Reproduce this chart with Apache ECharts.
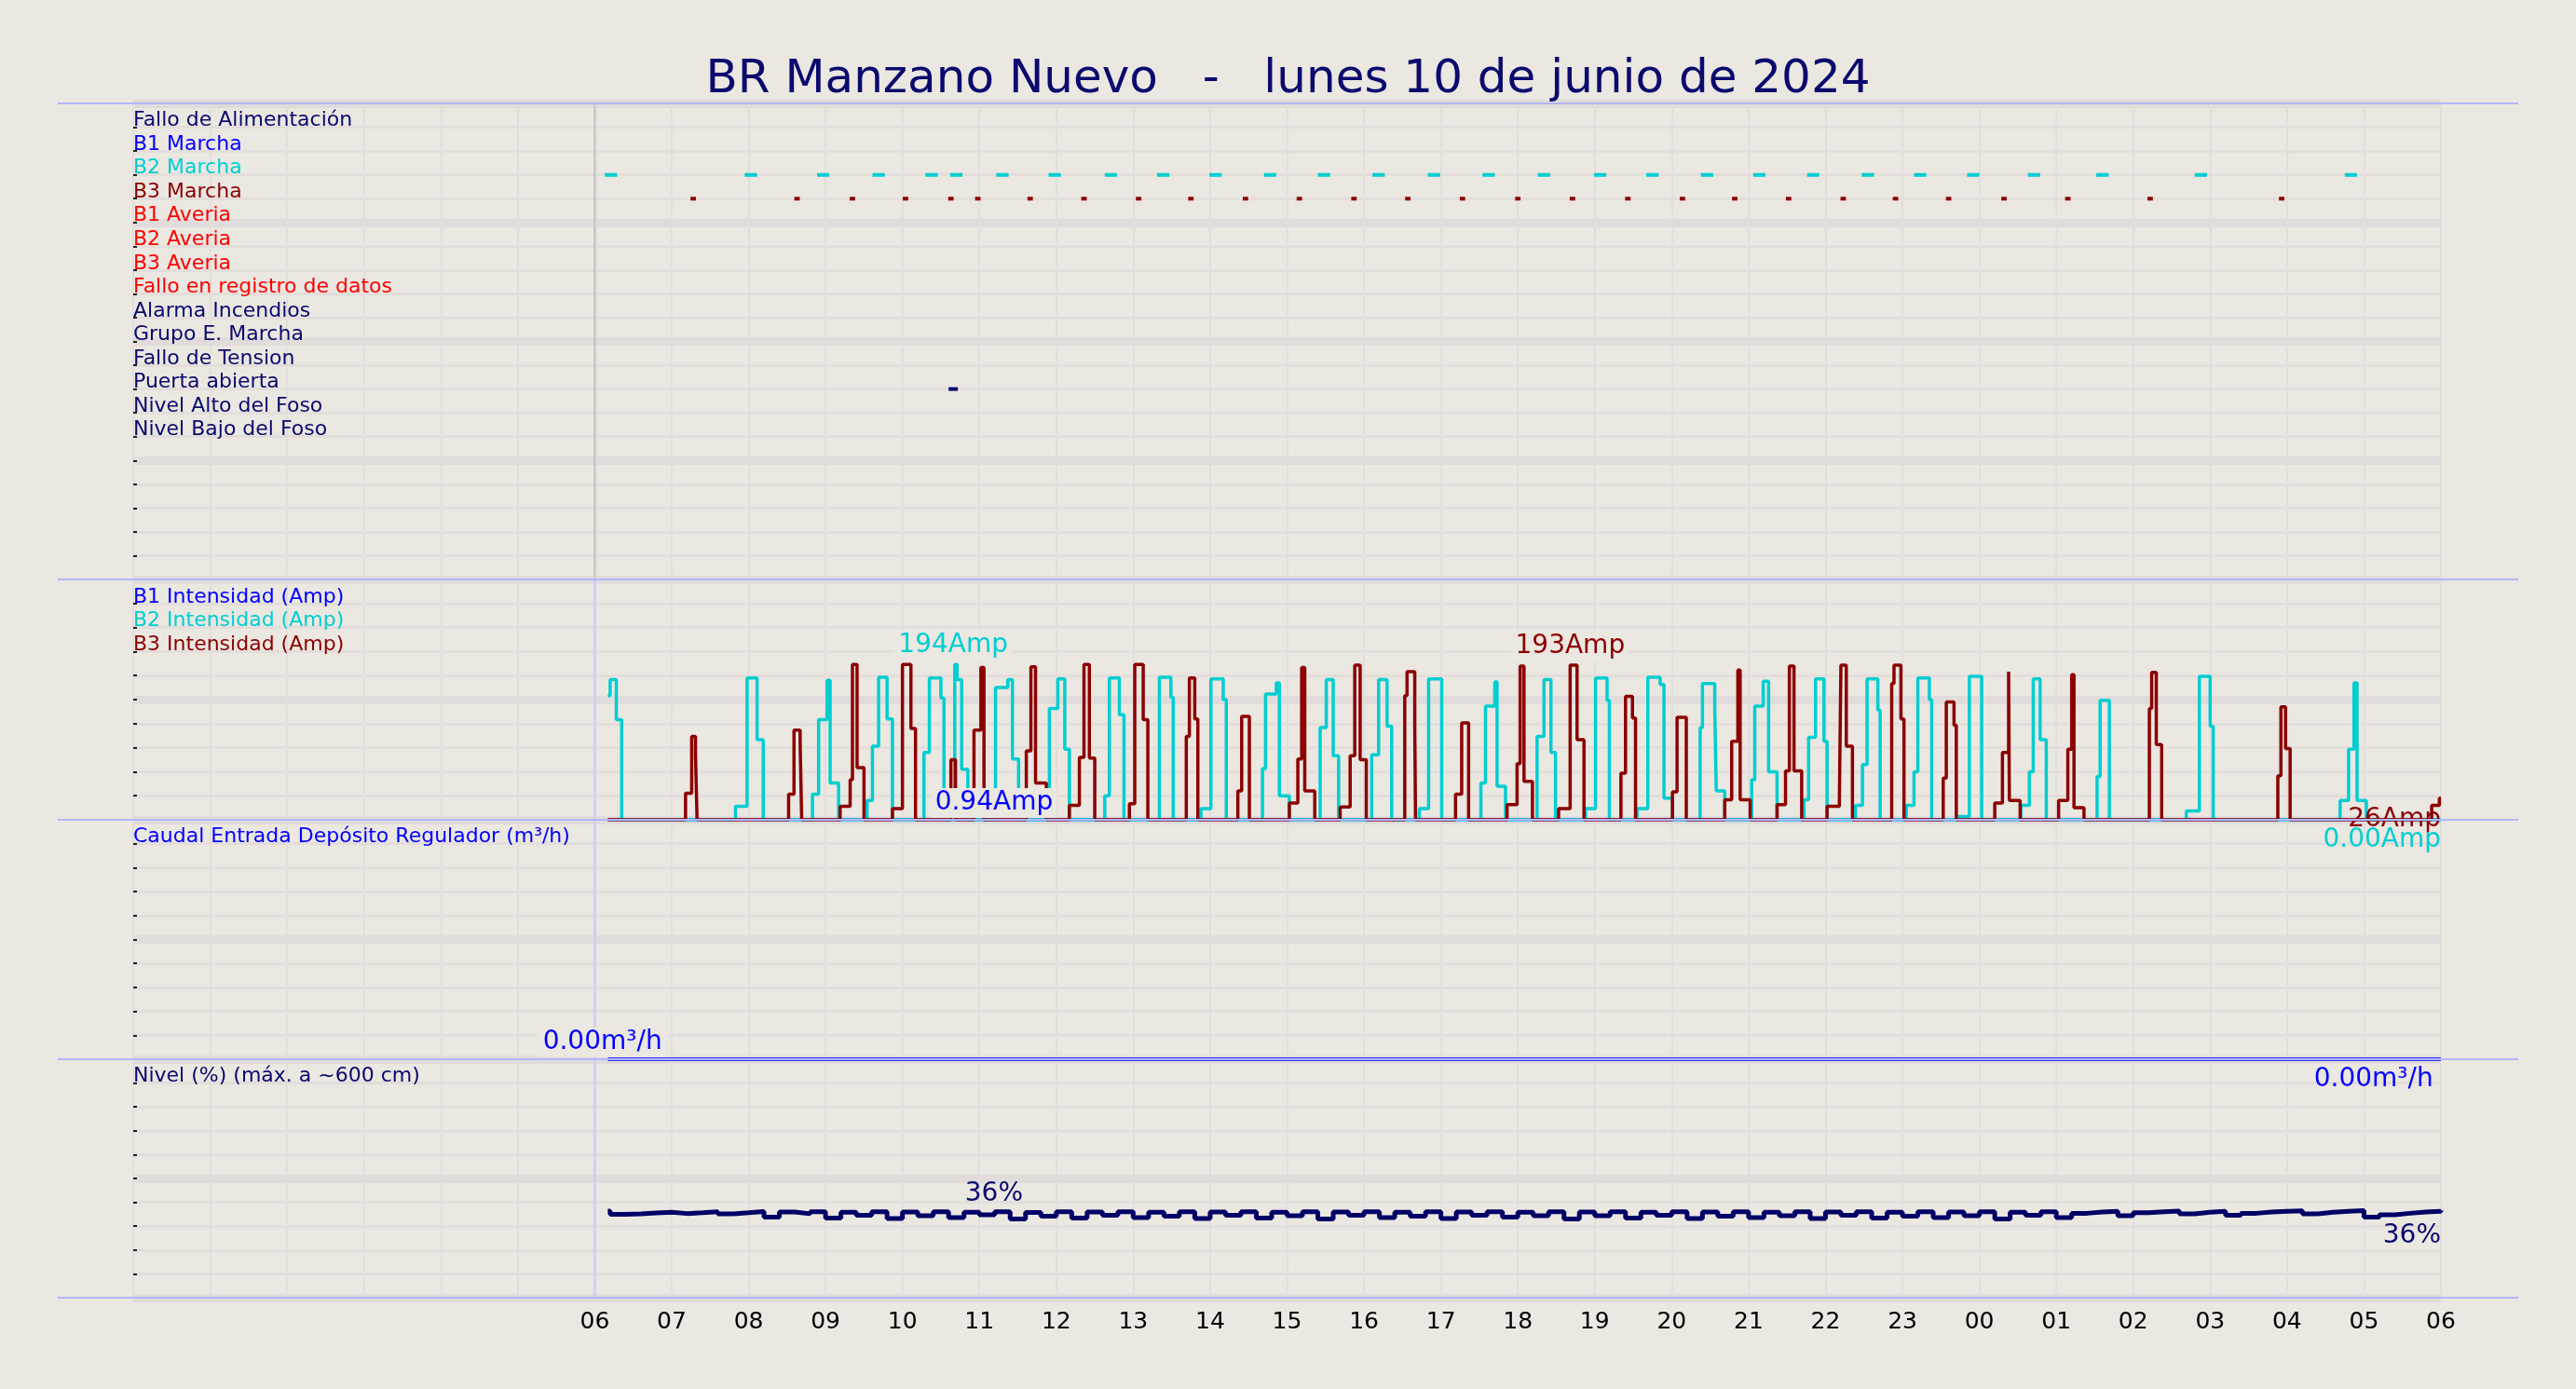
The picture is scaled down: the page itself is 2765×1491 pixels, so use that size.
<!DOCTYPE html>
<html><head><meta charset="utf-8">
<script src="https://cdn.jsdelivr.net/npm/echarts@6/dist/echarts.min.js"></script>
<style>html,body{margin:0;padding:0;background:#ebe7e1}#c{width:2765px;height:1491px}</style>
</head><body><div id="c"></div>
<script>
const BG='#ebe7e1', NAVY='#0a0a6e', CYAN='#00ced1', DRED='#8b0000', BLUE='#0000ff', RED='#ff0000';
const title='BR Manzano Nuevo   -   lunes 10 de junio de 2024';
const signalNames=['Fallo de Alimentación','B1 Marcha','B2 Marcha','B3 Marcha','B1 Averia','B2 Averia','B3 Averia','Fallo en registro de datos','Alarma Incendios','Grupo E. Marcha','Fallo de Tension','Puerta abierta','Nivel Alto del Foso','Nivel Bajo del Foso'];
const signalColors=[NAVY,BLUE,CYAN,DRED,RED,RED,RED,RED,NAVY,NAVY,NAVY,NAVY,NAVY,NAVY];
// event centers (hours since 00:00 of day 1)
const b2Marcha=[6.21,8.03,8.97,9.69,10.38,10.70,11.30,11.98,12.71,13.39,14.07,14.78,15.48,16.19,16.91,17.62,18.34,19.07,19.75,20.46,21.14,21.84,22.55,23.23,23.92,24.71,25.60,26.88,28.83];
const b3Marcha=[7.28,8.63,9.35,10.04,10.63,10.98,11.66,12.36,13.07,13.75,14.46,15.16,15.87,16.57,17.28,18.00,18.71,19.43,20.14,20.82,21.52,22.23,22.91,23.60,24.32,25.15,26.22,27.93];
const puerta=[10.66];
// currents: [hour, amps] step points
const b1Amp=[[6.17,0],[30,0.94]];
const b2Amp=[[6.17,155],[6.20,175],[6.28,125],[6.35,0],
[7.83,17],[7.98,177],[8.11,100],[8.19,0],
[8.83,32],[8.91,125],[9.02,174],[9.06,46],[9.17,0],
[9.54,24],[9.61,92],[9.69,178],[9.80,126],[9.87,0],
[10.28,84],[10.35,177],[10.50,152],[10.54,0],
[10.68,194],[10.71,175],[10.77,63],[10.85,0],
[11.21,165],[11.37,175],[11.43,76],[11.51,0],
[11.91,139],[12.02,176],[12.11,88],[12.17,0],
[12.63,30],[12.69,177],[12.82,131],[12.88,0],
[13.34,178],[13.49,153],[13.52,0],
[13.88,14],[14.01,176],[14.17,150],[14.21,0],
[14.68,64],[14.72,157],[14.86,171],[14.90,30],[15.03,0],
[15.43,115],[15.51,175],[15.60,80],[15.67,0],
[16.10,81],[16.19,175],[16.30,117],[16.36,0],
[16.72,14],[16.84,176],[17.01,0],
[17.52,46],[17.58,142],[17.70,172],[17.73,42],[17.84,0],
[18.25,104],[18.34,175],[18.43,84],[18.49,0],
[18.88,14],[19.01,177],[19.16,149],[19.19,0],
[19.55,14],[19.69,178],[19.85,169],[19.90,27],[20.01,0],
[20.37,115],[20.40,170],[20.56,139],[20.58,36],[20.69,0],
[21.04,50],[21.08,142],[21.19,173],[21.26,60],[21.37,0],
[21.72,25],[21.78,103],[21.87,176],[21.98,98],[22.02,0],
[22.39,18],[22.48,69],[22.54,176],[22.68,137],[22.71,0],
[23.05,18],[23.15,60],[23.20,177],[23.35,150],[23.38,0],
[23.71,4],[23.87,179],[24.03,0],
[24.54,18],[24.65,60],[24.70,176],[24.79,100],[24.87,0],
[25.53,54],[25.57,149],[25.69,0],
[26.69,11],[26.86,179],[27.00,117],[27.04,0],
[28.69,24],[28.80,88],[28.87,171],[28.91,24],[29.03,0],[30,0]];
const b3Amp=[[6.17,0],[7.18,33],[7.26,104],[7.31,80],[7.33,0],
[8.52,32],[8.59,112],[8.67,96],[8.69,0],
[9.19,17],[9.32,50],[9.35,194],[9.41,65],[9.50,0],
[9.87,14],[10.00,194],[10.11,114],[10.17,0],
[10.63,75],[10.69,0],[10.93,112],[11.02,190],[11.06,0],
[11.61,86],[11.67,191],[11.73,46],[11.87,0],
[12.17,18],[12.30,78],[12.36,194],[12.43,77],[12.50,0],
[12.95,20],[13.02,194],[13.13,125],[13.19,0],
[13.69,104],[13.73,177],[13.80,126],[13.84,0],
[14.36,36],[14.41,129],[14.51,0],
[15.03,21],[15.14,76],[15.19,190],[15.23,36],[15.36,0],
[15.69,16],[15.82,80],[15.88,193],[15.95,75],[16.03,0],
[16.53,155],[16.56,185],[16.66,116],[16.67,0],
[17.19,32],[17.27,121],[17.36,0],
[17.86,19],[17.99,70],[18.03,192],[18.08,48],[18.19,0],
[18.53,14],[18.68,193],[18.77,100],[18.86,0],
[19.34,58],[19.40,154],[19.49,127],[19.53,0],
[20.01,35],[20.07,128],[20.19,0],
[20.69,25],[20.78,98],[20.86,187],[20.89,25],[21.02,0],
[21.37,19],[21.48,61],[21.53,192],[21.59,61],[21.69,0],
[22.02,17],[22.18,24],[22.20,193],[22.27,92],[22.35,0],
[22.86,170],[22.89,193],[22.98,126],[23.02,0],
[23.53,52],[23.57,147],[23.67,118],[23.70,0],
[24.20,21],[24.30,84],[24.38,185],[24.39,24],[24.53,0],
[25.03,24],[25.15,88],[25.20,181],[25.23,15],[25.36,0],
[26.21,139],[26.24,184],[26.30,94],[26.37,0],
[27.88,55],[27.92,141],[27.98,89],[28.04,0],
[29.88,18],[29.98,27],[30,27]];
const flow=[[6.17,0],[30,0]];
const levelStart=6.2, levelStep=0.2;
const level=[35.0,35.2,35.5,35.8,35.3,35.6,36.0,35.2,35.6,36.1,
33.8,35.9,35.2,36.0,33.4,35.8,34.6,36.0,33.2,35.9,
34.4,36.0,33.6,35.8,34.8,36.0,33.0,35.7,34.2,36.0,
33.4,35.9,34.6,36.0,33.6,35.8,34.2,36.0,33.2,35.9,
34.6,36.0,33.4,35.8,34.4,36.0,33.0,35.9,34.6,36.0,
33.6,35.8,34.2,36.0,33.2,35.9,34.6,36.0,33.8,35.8,
34.4,36.0,33.0,35.9,34.4,36.0,33.4,35.8,34.6,36.0,
33.2,35.9,34.2,36.0,33.6,35.8,34.4,36.0,33.2,35.9,
34.6,36.0,33.4,35.8,34.2,36.0,33.6,35.9,34.4,36.0,
33.0,35.8,34.6,36.0,33.6,35.4,35.9,36.2,34.4,35.6,
36.0,36.3,35.2,35.8,36.2,34.6,35.4,35.9,36.2,36.4,
35.2,35.8,36.2,36.5,33.8,34.8,35.4,35.9,36.2,36.6];

const F='DejaVu Sans';
const L=143, R=145;
const grids=[{top:111,height:511},{top:622,height:258},{top:880,height:257},{top:1137,height:256}];
const yCfg=[{max:20,minor:1,major:5},{max:300,minor:30,major:150},{max:100,minor:10,major:50},{max:100,minor:10,major:50}];
const pad=n=>String(n).padStart(2,'0');
const xAxis=[],yAxis=[],grid=[];
grids.forEach((g,i)=>{
  grid.push({left:L,right:R,top:g.top,height:g.height,containLabel:false});
  xAxis.push({type:'value',gridIndex:i,min:0,max:30,interval:1,
    axisLine:{show:false},axisTick:{show:false},
    axisLabel:{show:i===3,fontFamily:F,fontSize:25,color:'#000',margin:14,formatter:v=>v>=6?pad(v%24):''},
    splitLine:{show:true,lineStyle:{color:'#e2dedb',width:2}}});
  const c=yCfg[i];
  yAxis.push({type:'value',gridIndex:i,min:0,max:c.max,interval:c.minor,position:'right',
    axisLine:{show:false},axisLabel:{show:false},
    axisTick:{show:true,length:4,lineStyle:{color:'#222',width:2}},
    splitLine:{show:true,lineStyle:{color:'#e3dedb',width:3}}});
  yAxis.push({type:'value',gridIndex:i,min:0,max:c.max,interval:c.major,position:'right',
    axisLine:{show:false},axisLabel:{show:false},axisTick:{show:false},
    splitLine:{show:true,lineStyle:{color:'#e1dcdb',width:9}}});
});
const series=[];
function txt(gi,pts){series.push({type:'scatter',xAxisIndex:gi,yAxisIndex:gi*2,symbolSize:0,silent:true,z:10,
  itemStyle:{opacity:1},
  data:pts.map(p=>({value:[p.x,p.y],label:{show:true,formatter:p.t,color:p.c,opacity:1,fontFamily:F,fontSize:p.fs||22,
    position:p.pos||[0,4],align:p.align||'left',verticalAlign:p.va||'bottom',
    backgroundColor:p.bg||'transparent',padding:p.pad||0}}))});}
// panel 1 labels
txt(0,signalNames.map((n,i)=>({x:0,y:19-i,t:n,c:signalColors[i]})));
function dashes(arr,row,w,color,width){const d=[];arr.forEach(c=>{d.push([c-w/2,row],[c+w/2,row],[c,'-']);});
  series.push({type:'line',xAxisIndex:0,yAxisIndex:0,data:d,symbol:'none',connectNulls:false,lineStyle:{color,width},z:5});}
dashes(b2Marcha,17,0.16,CYAN,4);
dashes(b3Marcha,16,0.07,DRED,4);
dashes(puerta,8,0.12,NAVY,4);
// vertical 06 marker
series.push({type:'line',xAxisIndex:0,yAxisIndex:0,data:[[6,0],[6,20]],symbol:'none',lineStyle:{color:'#c4c2c2',width:2},z:1});
[1,2,3].forEach(gi=>series.push({type:'line',xAxisIndex:gi,yAxisIndex:gi*2,data:[[6,0],[6,yCfg[gi].max]],symbol:'none',lineStyle:{color:'#c8cafa',width:2},z:1}));
// panel 2
txt(1,[{x:0,y:270,t:'B1 Intensidad (Amp)',c:BLUE},{x:0,y:240,t:'B2 Intensidad (Amp)',c:CYAN},{x:0,y:210,t:'B3 Intensidad (Amp)',c:DRED}]);
const stepLine=(gi,data,color,w,z)=>series.push({type:'line',xAxisIndex:gi,yAxisIndex:gi*2,data,step:'end',symbol:'none',lineStyle:{color,width:w},z});
stepLine(1,b1Amp.map(p=>[p[0],0]),BLUE,3,3);
stepLine(1,b2Amp,CYAN,3.5,4);
stepLine(1,b3Amp,DRED,3.5,5);
txt(1,[{x:10.66,y:194,t:'194Amp',c:CYAN,fs:28,pos:[0,-4],align:'center',bg:BG,pad:[2,4]},
 {x:18.68,y:193,t:'193Amp',c:DRED,fs:28,pos:[0,-4],align:'center',bg:BG,pad:[2,4]},
 {x:11.19,y:0,t:'0.94Amp',c:BLUE,fs:28,pos:[0,-2],align:'center',bg:BG,pad:[2,4]},
 {x:30,y:0,t:'26Amp',c:DRED,fs:28,pos:[0,0],align:'right',va:'middle'},
 {x:30,y:0,t:'0.00Amp',c:CYAN,fs:28,pos:[0,22],align:'right',va:'middle'}]);
// panel 3
txt(2,[{x:0,y:90,t:'Caudal Entrada Depósito Regulador (m³/h)',c:BLUE}]);
stepLine(2,flow,'#3333ff',4,4);
txt(2,[{x:6.1,y:0,t:'0.00m³/h',c:BLUE,fs:28,pos:[0,-2],align:'center',bg:BG,pad:[2,6]},
 {x:29.9,y:0,t:'0.00m³/h',c:BLUE,fs:28,pos:[0,8],align:'right',va:'top'}]);
// panel 4
txt(3,[{x:0,y:90,t:'Nivel (%) (máx. a ~600 cm)',c:NAVY}]);
const lv=[[6.17,36.3]].concat(level.map((v,i)=>[+(levelStart+i*levelStep).toFixed(2),v]));
stepLine(3,lv,'#000066',5,4);
txt(3,[{x:11.19,y:36.5,t:'36%',c:NAVY,fs:28,pos:[0,-4],align:'center'},
 {x:30,y:33,t:'36%',c:NAVY,fs:28,pos:[0,4],align:'right',va:'top'}]);

const chart=echarts.init(document.getElementById('c'),null,{renderer:'canvas'});
const ys=[111,622,880,1137,1393];
chart.setOption({backgroundColor:BG,animation:false,
  title:{text:title,left:'center',top:56,textStyle:{fontFamily:F,fontSize:50,fontWeight:'normal',color:NAVY}},
  grid,xAxis,yAxis,series,
  graphic:ys.map(y=>({type:'line',shape:{x1:62,y1:y,x2:2703,y2:y},style:{stroke:'#b4b6fa',lineWidth:2},z:20}))});
</script></body></html>
